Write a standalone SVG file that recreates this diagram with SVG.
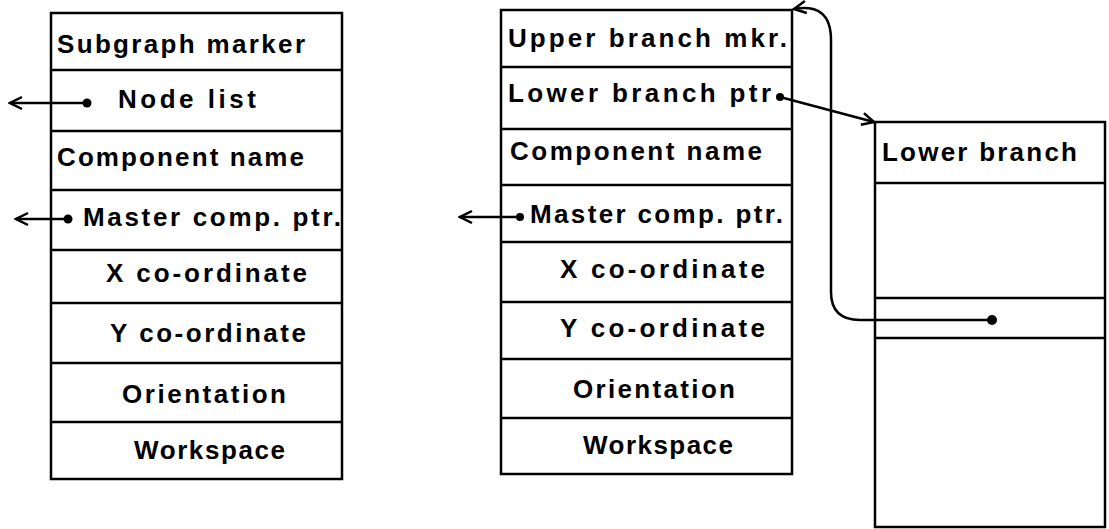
<svg xmlns="http://www.w3.org/2000/svg" width="1109" height="529" viewBox="0 0 1109 529">
<style>
.box{fill:none;stroke:#000;stroke-width:2.5}
.ln{fill:none;stroke:#000;stroke-width:2.5}
.t{font-family:"Liberation Sans",Arial,sans-serif;font-weight:bold;font-size:26px;fill:#000}
.dot{fill:#000}
</style>
<defs>
<marker id="ah" viewBox="0 0 20 20" refX="18" refY="10" markerWidth="20" markerHeight="20" markerUnits="userSpaceOnUse" orient="auto">
<path d="M6 4 L18 10 L6 16" fill="none" stroke="#000" stroke-width="2.5"/>
</marker>
</defs>
<rect width="1109" height="529" fill="#fff"/>
<g id="left-record">
<rect class="box" x="51" y="13" width="291" height="466"/>
<path class="ln" d="M51 70H342M51 131H342M51 190H342M51 250H342M51 303H342M51 363H342M51 422H342"/>
<text class="t" x="57" y="53" textLength="248" lengthAdjust="spacing">Subgraph marker</text>
<text class="t" x="118" y="108" textLength="138" lengthAdjust="spacing">Node list</text>
<text class="t" x="57" y="166" textLength="247" lengthAdjust="spacing">Component name</text>
<text class="t" x="83" y="226" textLength="258" lengthAdjust="spacing">Master comp. ptr.</text>
<text class="t" x="106" y="282" textLength="201" lengthAdjust="spacing">X co-ordinate</text>
<text class="t" x="110" y="342" textLength="196" lengthAdjust="spacing">Y co-ordinate</text>
<text class="t" x="122" y="403" textLength="164" lengthAdjust="spacing">Orientation</text>
<text class="t" x="134" y="459" textLength="151" lengthAdjust="spacing">Workspace</text>
</g>
<g id="middle-record">
<rect class="box" x="501" y="10" width="291" height="464"/>
<path class="ln" d="M501 67H792M501 129H792M501 185H792M501 242H792M501 302H792M501 359H792M501 418H792"/>
<text class="t" x="508" y="47" textLength="279" lengthAdjust="spacing">Upper branch mkr.</text>
<text class="t" x="508" y="102" textLength="263" lengthAdjust="spacing">Lower branch ptr</text>
<text class="t" x="510" y="160" textLength="252" lengthAdjust="spacing">Component name</text>
<text class="t" x="530" y="223" textLength="253" lengthAdjust="spacing">Master comp. ptr.</text>
<text class="t" x="560" y="278" textLength="205" lengthAdjust="spacing">X co-ordinate</text>
<text class="t" x="560" y="337" textLength="205" lengthAdjust="spacing">Y co-ordinate</text>
<text class="t" x="573" y="398" textLength="162" lengthAdjust="spacing">Orientation</text>
<text class="t" x="583" y="454" textLength="150" lengthAdjust="spacing">Workspace</text>
</g>
<g id="lower-branch-record">
<rect class="box" x="875" y="122" width="230" height="405"/>
<path class="ln" d="M875 183H1105M875 298H1105M875 338H1105"/>
<text class="t" x="882" y="161" textLength="195" lengthAdjust="spacing">Lower branch</text>
</g>
<g id="connectors">
<path class="ln" d="M87 103H10" marker-end="url(#ah)"/>
<circle class="dot" cx="87" cy="103" r="4.5"/>
<path class="ln" d="M68 219H16" marker-end="url(#ah)"/>
<circle class="dot" cx="68" cy="219" r="4.5"/>
<path class="ln" d="M520 217H460" marker-end="url(#ah)"/>
<circle class="dot" cx="520" cy="217" r="4"/>
<path class="ln" d="M780 97L874 122" marker-end="url(#ah)"/>
<circle class="dot" cx="780" cy="97" r="4"/>
<path class="ln" d="M992 320H860Q831 320 831 292V40C831 14 818 5 794 9" marker-end="url(#ah)"/>
<circle class="dot" cx="992" cy="320" r="5"/>
</g>
</svg>
